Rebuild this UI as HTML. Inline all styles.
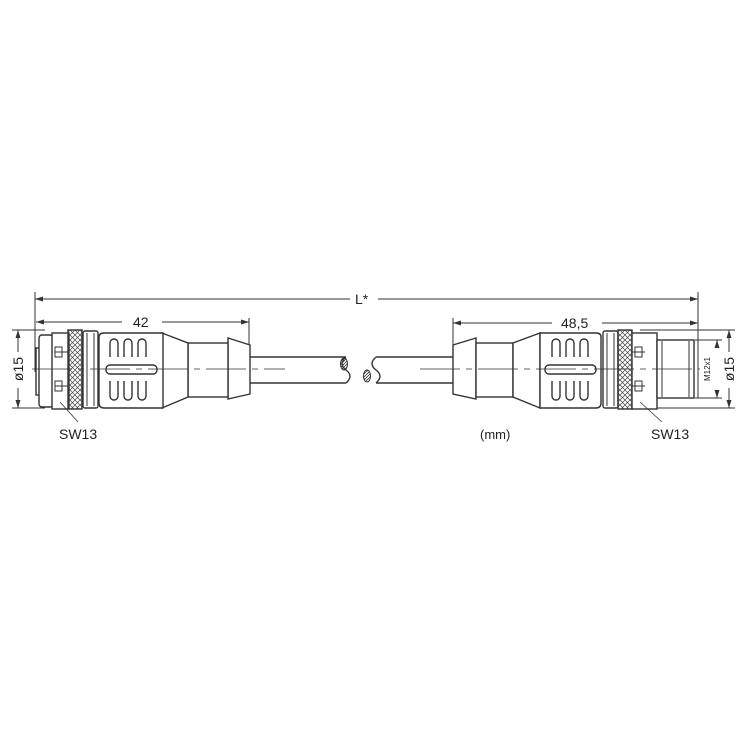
<!DOCTYPE html>
<html><head><meta charset="utf-8"><style>body{margin:0;background:#fff}svg{display:block}</style></head><body>
<svg width="750" height="750" viewBox="0 0 750 750" xmlns="http://www.w3.org/2000/svg" font-family="Liberation Sans, sans-serif">
<defs>
<pattern id="kn" width="5" height="5" patternUnits="userSpaceOnUse"><path d="M0 0L5 5M5 0L0 5" stroke="#444" stroke-width="0.7"/></pattern>
<pattern id="ht" width="3" height="3" patternUnits="userSpaceOnUse"><path d="M0 3L3 0" stroke="#333" stroke-width="0.8"/></pattern>
<marker id="a" markerWidth="8" markerHeight="6" refX="8" refY="3" orient="auto-start-reverse" markerUnits="userSpaceOnUse"><path d="M0 0.5L8 3L0 5.5" fill="#333"/></marker>
</defs>
<g stroke="#333" fill="none" stroke-width="1">
<line x1="35" y1="299" x2="350" y2="299" marker-start="url(#a)"/>
<line x1="378" y1="299" x2="698" y2="299" marker-end="url(#a)"/>
<line x1="35" y1="292" x2="35" y2="372"/>
<line x1="698" y1="292" x2="698" y2="398"/>
<line x1="36" y1="322" x2="122" y2="322" marker-start="url(#a)"/>
<line x1="162" y1="322" x2="249" y2="322" marker-end="url(#a)"/>
<line x1="249" y1="318" x2="249" y2="345"/>
<line x1="453" y1="323" x2="552" y2="323" marker-start="url(#a)"/>
<line x1="602" y1="323" x2="698" y2="323" marker-end="url(#a)"/>
<line x1="453" y1="318" x2="453" y2="345"/>
<line x1="12" y1="330" x2="45" y2="330"/><line x1="12" y1="408" x2="45" y2="408"/>
<line x1="18" y1="330" x2="18" y2="352" marker-start="url(#a)"/>
<line x1="18" y1="388" x2="18" y2="408" marker-end="url(#a)"/>
<line x1="640" y1="330" x2="735" y2="330"/><line x1="640" y1="408" x2="735" y2="408"/>
<line x1="695" y1="340" x2="722" y2="340"/><line x1="695" y1="398" x2="722" y2="398"/>
<line x1="729" y1="330" x2="729" y2="352" marker-start="url(#a)"/>
<line x1="729" y1="388" x2="729" y2="408" marker-end="url(#a)"/>
<line x1="717" y1="340" x2="717" y2="348" marker-start="url(#a)"/>
<line x1="717" y1="390" x2="717" y2="398" marker-end="url(#a)"/>
</g>
<g stroke="#333" fill="#fff" stroke-width="1.4">
<rect x="36" y="348" width="4" height="47"/>
<rect x="39" y="335" width="14" height="72" rx="3"/>
<rect x="52" y="333" width="17" height="76"/>
<rect x="55" y="347" width="7" height="10" fill="none" stroke-width="1"/><rect x="55" y="381" width="7" height="10" fill="none" stroke-width="1"/>
<line x1="55" y1="352" x2="69" y2="352" stroke-width="1"/><line x1="55" y1="386" x2="69" y2="386" stroke-width="1"/>
<rect x="68" y="330" width="14" height="79" fill="url(#kn)"/>
<rect x="83" y="331" width="15" height="77" rx="2"/>
<line x1="87" y1="333" x2="87" y2="406" stroke-width="1"/><line x1="94" y1="333" x2="94" y2="406" stroke-width="1"/>
<line x1="250" y1="357" x2="346" y2="357"/><line x1="250" y1="383" x2="346" y2="383"/>
<path d="M346 357Q338 364 346 370Q354 376 346 383" fill="none"/>
<path d="M228 338L250 345L250 394L228 399Z"/>
<rect x="188" y="343" width="40" height="54"/>
<path d="M162 333L188 343L188 397L162 408Z"/>
<path d="M99 337Q99 333 104 333L163 333L163 408L104 408Q99 408 99 403Z"/>
<path d="M110 357V343a4 4 0 0 1 8 0V357M124 357V343a4 4 0 0 1 8 0V357M138 357V343a4 4 0 0 1 8 0V357" fill="none"/>
<path d="M110 381V396a4 4 0 0 0 8 0V381M124 381V396a4 4 0 0 0 8 0V381M138 381V396a4 4 0 0 0 8 0V381" fill="none"/>
<rect x="106" y="365" width="51" height="9" rx="4"/>
<line x1="376" y1="357" x2="453" y2="357"/><line x1="376" y1="383" x2="453" y2="383"/>
<path d="M376 357Q368 364 376 370Q384 376 376 383" fill="none"/>
<path d="M476 338L453 345L453 394L476 399Z"/>
<rect x="476" y="343" width="37" height="54"/>
<path d="M540 333L513 343L513 397L540 408Z"/>
<path d="M540 333L596 333Q601 333 601 337L601 403Q601 408 596 408L540 408Z"/>
<path d="M552 357V343a4 4 0 0 1 8 0V357M566 357V343a4 4 0 0 1 8 0V357M580 357V343a4 4 0 0 1 8 0V357" fill="none"/>
<path d="M552 381V396a4 4 0 0 0 8 0V381M566 381V396a4 4 0 0 0 8 0V381M580 381V396a4 4 0 0 0 8 0V381" fill="none"/>
<rect x="545" y="365" width="51" height="9" rx="4"/>
<rect x="603" y="331" width="15" height="77" rx="2"/>
<line x1="607" y1="333" x2="607" y2="406" stroke-width="1"/><line x1="614" y1="333" x2="614" y2="406" stroke-width="1"/>
<rect x="618" y="330" width="14" height="79" fill="url(#kn)"/>
<rect x="632" y="333" width="25" height="76"/>
<rect x="635" y="347" width="7" height="10" fill="none" stroke-width="1"/><rect x="635" y="381" width="7" height="10" fill="none" stroke-width="1"/>
<line x1="632" y1="352" x2="645" y2="352" stroke-width="1"/><line x1="632" y1="386" x2="645" y2="386" stroke-width="1"/>
<rect x="657" y="340" width="37" height="58"/>
<line x1="662" y1="341" x2="662" y2="397" stroke-width="1"/><line x1="689" y1="341" x2="689" y2="397" stroke-width="1"/>
</g>
<g stroke="#333" stroke-width="1">
<ellipse cx="344" cy="364" rx="3.5" ry="6" fill="url(#ht)"/>
<ellipse cx="367" cy="376" rx="3.5" ry="6" fill="url(#ht)"/>
</g>
<g stroke="#333" stroke-width="0.8" stroke-dasharray="40 6 6 6">
<line x1="32" y1="369" x2="285" y2="369"/>
<line x1="420" y1="369" x2="700" y2="369"/>
</g>
<g stroke="#333" stroke-width="0.8"><line x1="60" y1="402" x2="78" y2="422"/><line x1="640" y1="402" x2="662" y2="422"/></g>
<g fill="#222" font-size="14">
<text x="355" y="304">L*</text>
<text x="133" y="327">42</text>
<text x="561" y="328">48,5</text>
<text x="59" y="439">SW13</text>
<text x="651" y="439">SW13</text>
<text x="480" y="439" font-size="13">(mm)</text>
<text transform="translate(23,369) rotate(-90)" text-anchor="middle">ø15</text>
<text transform="translate(734,369) rotate(-90)" text-anchor="middle">ø15</text>
<text transform="translate(710,369) rotate(-90)" text-anchor="middle" font-size="8">M12x1</text>
</g>
</svg>
</body></html>
